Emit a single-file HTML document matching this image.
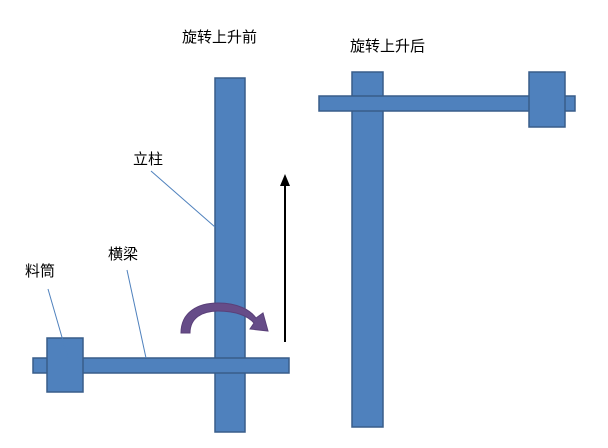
<!DOCTYPE html>
<html><head><meta charset="utf-8"><style>
body{margin:0;background:#fff;}
svg{display:block}
text{font-family:"Liberation Sans","Noto Sans CJK SC",sans-serif;font-size:15px;fill:#000}
</style></head><body>
<svg width="608" height="448" viewBox="0 0 608 448" xmlns="http://www.w3.org/2000/svg">
<g fill="#4f81bd" stroke="#385d8a" stroke-width="1.5">
<rect x="215" y="78" width="30" height="354"/>
<rect x="33" y="358" width="256" height="15"/>
<rect x="47" y="338" width="36" height="54"/>
<rect x="352" y="72" width="31" height="355"/>
<rect x="319" y="96" width="256" height="15"/>
<rect x="529" y="72" width="36" height="55"/>
</g>
<g stroke="#4f81bd" stroke-width="1" fill="none">
<line x1="151" y1="171" x2="215" y2="227"/>
<line x1="127" y1="270" x2="146" y2="358"/>
<line x1="48" y1="289" x2="68" y2="358"/>
</g>
<line x1="285" y1="342" x2="285" y2="182" stroke="#000" stroke-width="2"/>
<polygon points="285,174 280,186 290,186" fill="#000"/>
<path d="M181,333 C181,312 198,303 218,303 C238,303 250,310 256,318 L263,313 L268,331 L250,329 L254,323 C248,316 236,311 218,311 C202,311 190,318 190,333 Z" fill="#664c88" stroke="#5a4079" stroke-width="1"/>
<text x="182" y="42">旋转上升前</text>
<text x="350" y="51">旋转上升后</text>
<text x="133" y="164">立柱</text>
<text x="108" y="259">横梁</text>
<text x="25" y="276">料筒</text>
</svg>
</body></html>
